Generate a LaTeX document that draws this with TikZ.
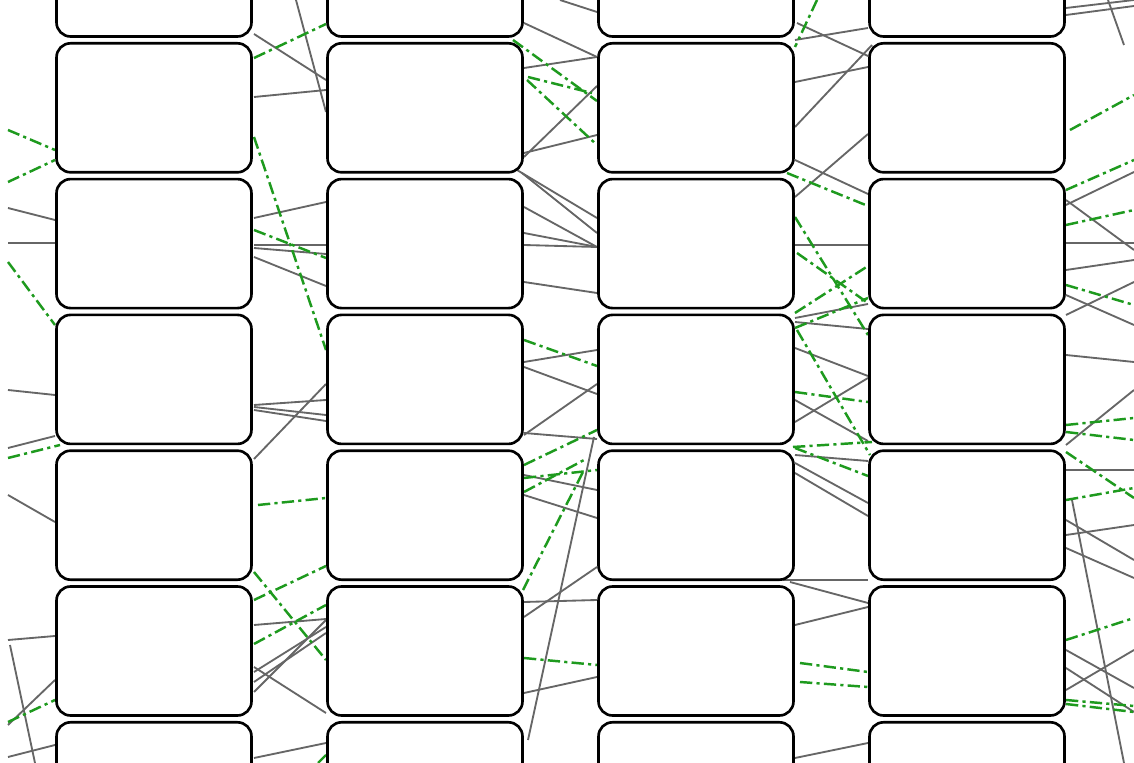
\documentclass[tikz,border=0pt]{standalone}
\definecolor{wiregray}{HTML}{666666}
\definecolor{linkgreen}{HTML}{1E9A1E}
\usepackage{tikz}
\usetikzlibrary{positioning}

\tikzset{
  cell/.style={draw=black,line width=1.5pt,fill=white,rounded corners=0.28cm,
    minimum width=3.9cm,minimum height=2.58cm,inner sep=0pt},
  wire/.style={wiregray,line width=1.05pt},
  link/.style={linkgreen,line width=1.4pt,dash pattern=on 7pt off 2.4pt on 1.8pt off 2.4pt}
}

\begin{document}
\begin{tikzpicture}[x=0.02cm,y=-0.02cm]
    \clip (0,0) rectangle (1134,763);
    \fill[white] (0,0) rectangle (1134,763);
    % background wires (gray)
    \foreach \xa/\ya/\xb/\yb in {
        8/208/55/220, 8/243/55/243, 8/390/55/395, 8/448/55/436, 8/495/55/522,
        8/640/55/636, 10/645/35/763, 8/725/55/680, 8/757/55/745,
        254/34/326/80, 296/0/326/112, 254/97/326/90, 254/218/326/202,
        254/245/326/245, 254/248/326/254, 254/257/326/286, 254/405/326/400,
        254/410/326/421, 254/407/326/415, 254/459/326/384, 254/625/326/619,
        254/692/326/620, 254/682/326/633, 254/672/326/627, 254/667/326/713,
        254/758/326/743,
        560/0/597/12, 524/23/597/57, 524/68/597/57, 524/157/597/86,
        524/153/597/135, 517/170/597/218, 522/173/597/233, 524/207/597/247,
        524/233/597/247, 524/245/597/247, 524/282/597/293, 524/362/597/350,
        524/367/597/394, 524/435/597/384, 524/433/597/439, 524/475/597/490,
        524/495/597/518, 528/740/594/437, 524/617/597/567, 524/602/597/600,
        524/693/597/677,
        797/23/868/56, 795/40/868/28, 795/82/868/67, 795/127/872/45,
        795/197/868/134, 795/160/868/194, 795/245/868/245, 795/318/868/304,
        795/322/868/329, 795/348/868/376, 795/422/868/378, 795/400/868/441,
        795/455/868/461, 795/463/868/503, 795/473/868/516, 783/580/868/580,
        790/582/868/603, 795/625/868/607, 795/758/868/743,
        1066/8/1134/0, 1066/15/1134/6, 1108/0/1124/45, 1066/205/1134/172,
        1066/200/1134/250, 1066/243/1134/243, 1066/270/1134/260,
        1066/295/1134/325, 1066/315/1134/282, 1066/355/1134/362,
        1066/445/1134/390, 1066/470/1134/470, 1066/520/1134/560,
        1066/535/1134/525, 1066/548/1134/578, 1072/500/1124/763,
        1066/650/1134/688, 1066/668/1134/712, 1066/690/1134/650}
      \draw[wire] (\xa,\ya) -- (\xb,\yb);
    % background links (green, dash-dot)
    \foreach \xa/\ya/\xb/\yb in {
        8/130/55/150, 8/182/55/160, 8/262/55/325, 8/458/60/445, 8/722/55/700,
        254/58/326/24, 254/137/326/350, 254/230/326/258, 258/505/326/498,
        254/572/326/660, 254/600/326/566, 254/644/326/605, 318/763/326/755,
        513/40/597/101, 528/77/592/93, 527/80/597/145, 524/340/597/366,
        524/465/597/430, 524/492/584/460, 524/478/597/470, 523/590/584/470,
        524/658/597/665,
        817/0/795/47, 787/173/868/206, 795/217/868/335, 797/330/870/455,
        797/253/868/303, 795/313/868/266, 795/328/868/298, 795/392/868/402,
        793/447/872/442, 795/448/868/476, 800/663/868/672, 800/682/868/687,
        1070/130/1134/95, 1066/190/1134/160, 1066/225/1134/210,
        1066/285/1134/305, 1066/425/1134/418, 1066/432/1134/440,
        1066/452/1134/498, 1066/500/1134/488, 1066/640/1134/618,
        1066/700/1134/706, 1066/704/1134/712}
      \draw[link] (\xa,\ya) -- (\xb,\yb);
    % grid of boxes
    \foreach \c in {0,...,3}
      \foreach \r in {0,...,6}
        \node[cell] (c\c r\r) at ({154+271*\c},{-28+135.8*\r}) {};
\end{tikzpicture}
\end{document}
